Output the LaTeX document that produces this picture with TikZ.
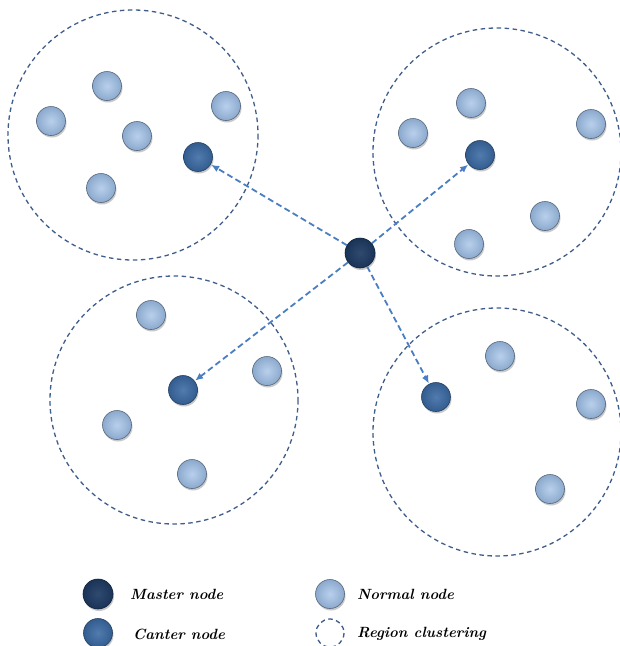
\documentclass[tikz,border=0pt]{standalone}
\usetikzlibrary{arrows.meta,shadows}
\definecolor{normalc}{HTML}{9BBCE4}
\definecolor{centerc}{HTML}{3A69A3}
\definecolor{masterc}{HTML}{1D3A62}
\definecolor{regionc}{HTML}{3F5D8A}
\definecolor{arrowc}{HTML}{4A7EC2}
\tikzset{
  ballbase/.style={circle, inner sep=0pt, minimum size=29pt, line width=0.6pt,
    drop shadow={shadow xshift=1pt, shadow yshift=-2pt, opacity=0.35, fill=black!60}},
  normalnode/.style={ballbase, draw=normalc!55!black, inner color=normalc!70!white, outer color=normalc!90!black},
  centernode/.style={ballbase, draw=centerc!60!black, inner color=centerc!88!white, outer color=centerc!88!black},
  masternode/.style={ballbase, minimum size=30pt, draw=masterc!60!black, inner color=masterc!92!white, outer color=masterc!90!black},
  region/.style={draw=regionc, line width=1.3pt, dash pattern=on 4.5pt off 3.5pt},
  link/.style={draw=arrowc, line width=1.8pt, dash pattern=on 6pt off 3.5pt, -{Latex[length=8pt,width=7pt]}, shorten >=0.5pt},
  legendtext/.style={anchor=west, font=\fontsize{14.8}{16}\selectfont\bfseries\itshape, inner sep=0pt}
}
\begin{document}
\begin{tikzpicture}[x=1pt,y=-1pt]
\useasboundingbox (0,0) rectangle (620,646);
\fill[white] (0,0) rectangle (620,646);
\begin{scope}
\clip (0,0) rectangle (620,646);
\draw[region] (133,135) circle (125);
\draw[region] (497,152) circle (124);
\draw[region] (174,400) circle (124);
\draw[region] (497,432) circle (124);
\end{scope}
% top-left cluster
\node[normalnode] (a1) at (107,86) {};
\node[normalnode] (a2) at (51,121) {};
\node[normalnode] (a3) at (137,136) {};
\node[normalnode] (a4) at (226,106) {};
\node[normalnode] (a5) at (101,188) {};
\node[centernode] (ca) at (198,157) {};
% top-right cluster
\node[normalnode] (b1) at (471,103) {};
\node[normalnode] (b2) at (413,133) {};
\node[normalnode] (b3) at (591,124) {};
\node[normalnode] (b4) at (545,216) {};
\node[normalnode] (b5) at (469,244) {};
\node[centernode] (cb) at (480,155) {};
% bottom-left cluster
\node[normalnode] (c1) at (151,315) {};
\node[normalnode] (c2) at (267,371) {};
\node[normalnode] (c3) at (117,425) {};
\node[normalnode] (c4) at (192,474) {};
\node[centernode] (cc) at (183,390) {};
% bottom-right cluster
\node[normalnode] (d1) at (500,356) {};
\node[normalnode] (d2) at (591,404) {};
\node[normalnode] (d3) at (550,489) {};
\node[centernode] (cd) at (436,397) {};
% master
\node[masternode] (m) at (360,253) {};
\draw[link] (m) -- (ca);
\draw[link] (m) -- (cb);
\draw[link] (m) -- (cc);
\draw[link] (m) -- (cd);
% legend
\node[masternode] (lm) at (98,594) {};
\node[legendtext] (tm) at (130,594) {Master node};
\node[normalnode] (ln) at (330,594) {};
\node[legendtext] (tn) at (357,594) {Normal node};
\node[centernode] (lc) at (98,633) {};
\node[legendtext] (tc) at (133,634) {Canter node};
\draw[region] (330,633) circle (14) coordinate (lr);
\node[legendtext] (tr) at (357,634) {Region clustering};
\end{tikzpicture}
\end{document}
